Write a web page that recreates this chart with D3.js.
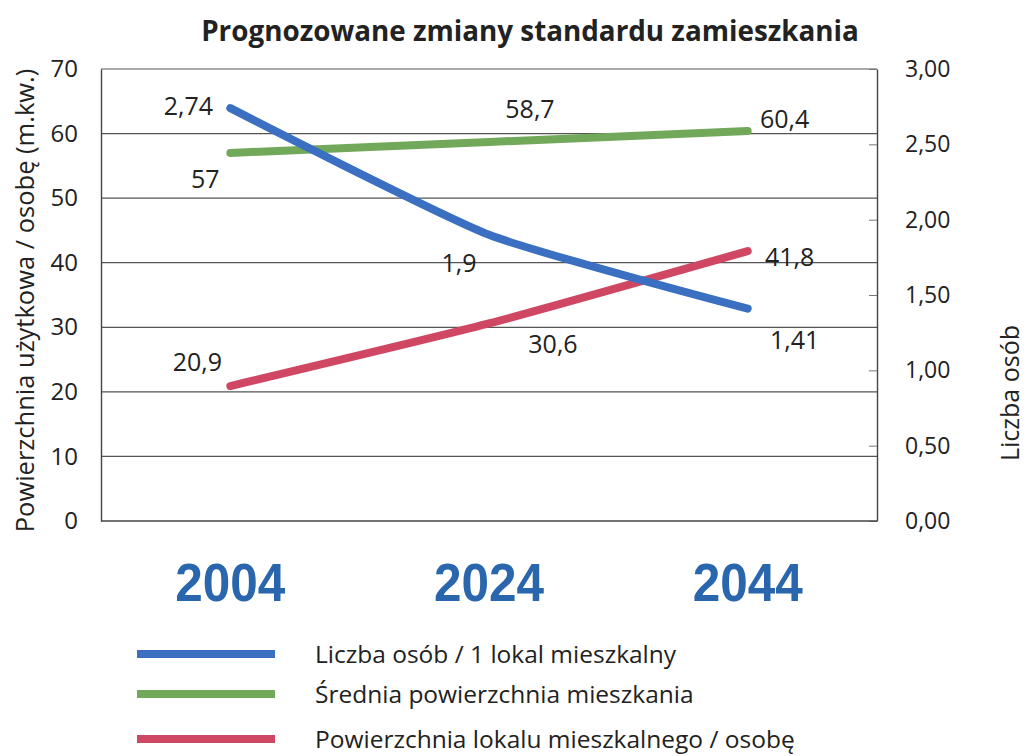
<!DOCTYPE html>
<html>
<head>
<meta charset="utf-8">
<script src="https://cdn.jsdelivr.net/npm/d3@7"></script>
<style>
  html, body { margin: 0; padding: 0; background: #fff; }
  svg { display: block; }
  text { font-family: "Open Sans", "Noto Sans", sans-serif; fill: #222; }
</style>
</head>
<body>
<svg id="chart" width="1026" height="756"></svg>
<script>
// Forecast years
const years = ["2004", "2024", "2044"];

// Persons per dwelling (right axis)
const personsPerDwelling = [2.74, 1.9, 1.41];
// Average dwelling floor area (left axis, m²)
const avgDwellingArea = [57, 58.7, 60.4];
// Floor area per person (left axis, m²)
const areaPerPerson = [20.9, 30.6, 41.8];

const leftTicks = [0, 10, 20, 30, 40, 50, 60, 70];
const rightTicks = [0, 0.5, 1, 1.5, 2, 2.5, 3];

const seriesNames = [
  "Liczba osób / 1 lokal mieszkalny",
  "Średnia powierzchnia mieszkania",
  "Powierzchnia lokalu mieszkalnego / osobę"
];

const title = "Prognozowane zmiany standardu zamieszkania";
const leftTitle = "Powierzchnia użytkowa / osobę (m.kw.)";
const rightTitle = "Liczba osób";

// ---- layout ----
const svg = d3.select("#chart");
const plot = { left: 101, right: 877, top: 69, bottom: 521 };

const x = d3.scalePoint().domain(years).range([plot.left, plot.right]).padding(0.5);
const yL = d3.scaleLinear().domain([0, 70]).range([plot.bottom, plot.top]);
const yR = d3.scaleLinear().domain([0, 3]).range([plot.bottom, plot.top]);

const fmtComma = (d, digits) => d.toFixed(digits).replace(".", ",");
const labelFmt = d => String(d).replace(".", ",");

// Title
svg.append("text")
  .attr("x", 530).attr("y", 41)
  .attr("text-anchor", "middle")
  .style("font-size", "27.8px").style("font-weight", "bold")
  .text(title);

// Horizontal gridlines
svg.append("g")
  .selectAll("line")
  .data(leftTicks.filter(t => t > 0))
  .join("line")
  .attr("x1", plot.left).attr("x2", plot.right)
  .attr("y1", d => yL(d)).attr("y2", d => yL(d))
  .attr("stroke", "#555").attr("stroke-width", 1.2);

// Left axis
const gL = svg.append("g")
  .attr("transform", `translate(${plot.left},0)`)
  .call(d3.axisLeft(yL).tickValues(leftTicks).tickSize(0).tickPadding(23));
gL.select(".domain").attr("stroke", "#444").attr("stroke-width", 1.4);
gL.selectAll("text").style("font-size", "24px").style("font-family", "'Open Sans', sans-serif").attr("fill", "#222");

// Right axis
const gR = svg.append("g")
  .attr("transform", `translate(${plot.right},0)`)
  .call(d3.axisRight(yR).tickValues(rightTicks).tickSizeInner(-8).tickSizeOuter(0)
    .tickPadding(28).tickFormat(d => fmtComma(d, 2)));
gR.select(".domain").attr("stroke", "#444").attr("stroke-width", 1.4);
gR.selectAll(".tick line").attr("stroke", "#777");
gR.selectAll("text").style("font-size", "23px").style("font-family", "'Open Sans', sans-serif").attr("fill", "#222").attr("text-anchor", "start");

// Bottom baseline
svg.append("line")
  .attr("x1", plot.left).attr("x2", plot.right)
  .attr("y1", plot.bottom).attr("y2", plot.bottom)
  .attr("stroke", "#444").attr("stroke-width", 1.4);

// Axis titles
svg.append("text")
  .attr("transform", `translate(34, ${(56 + 545) / 2}) rotate(-90)`)
  .attr("text-anchor", "middle")
  .style("font-size", "25.5px")
  .text(leftTitle);

svg.append("text")
  .attr("transform", `translate(1019, 393) rotate(-90)`)
  .attr("text-anchor", "middle")
  .style("font-size", "25px")
  .text(rightTitle);

// Year labels under the plot
svg.append("g")
  .selectAll("text")
  .data(years)
  .join("text")
  .attr("x", d => x(d))
  .attr("y", 601)
  .attr("text-anchor", "middle")
  .attr("textLength", 110)
  .attr("lengthAdjust", "spacingAndGlyphs")
  .style("font-family", "'Liberation Sans', Arial, sans-serif")
  .style("font-weight", "bold")
  .style("font-size", "54px")
  .style("fill", "#2a66ad")
  .text(d => d);

// Series definitions
const series = [
  { values: personsPerDwelling, scale: yR, color: "#3a6fc1",
    offsets: [[-42, -3], [-30, 27], [47, 30]] },
  { values: avgDwellingArea, scale: yL, color: "#72a85a",
    offsets: [[-25, 25], [41, -34], [37, -13]] },
  { values: areaPerPerson, scale: yL, color: "#d04763",
    offsets: [[-33, -25], [64, 20], [42, 5]] }
];

const line = (scale) => d3.line()
  .x((d, i) => x(years[i]))
  .y(d => scale(d))
  .curve(d3.curveCardinal.tension(0.45));

// Draw green and red first, blue on top
[1, 2, 0].forEach(si => {
  const s = series[si];
  svg.append("path")
    .datum(s.values)
    .attr("d", line(s.scale))
    .attr("fill", "none")
    .attr("stroke", s.color)
    .attr("stroke-width", 8)
    .attr("stroke-linecap", "round")
    .attr("stroke-linejoin", "round");
});

// Data labels
series.forEach(s => {
  svg.append("g")
    .selectAll("text")
    .data(s.values)
    .join("text")
    .attr("x", (d, i) => x(years[i]) + s.offsets[i][0])
    .attr("y", (d, i) => s.scale(d) + s.offsets[i][1])
    .attr("text-anchor", "middle")
    .attr("dominant-baseline", "central")
    .style("font-size", "25px")
    .text(d => labelFmt(d));
});

// Legend
const legend = svg.append("g");
const legendRows = [654, 694, 739];
seriesNames.forEach((name, i) => {
  legend.append("line")
    .attr("x1", 137).attr("x2", 275)
    .attr("y1", legendRows[i]).attr("y2", legendRows[i])
    .attr("stroke", series[i].color)
    .attr("stroke-width", 8);
  legend.append("text")
    .attr("x", 315).attr("y", legendRows[i] - 1)
    .attr("dominant-baseline", "central")
    .style("font-size", "24.5px")
    .text(name);
});
</script>
</body>
</html>
